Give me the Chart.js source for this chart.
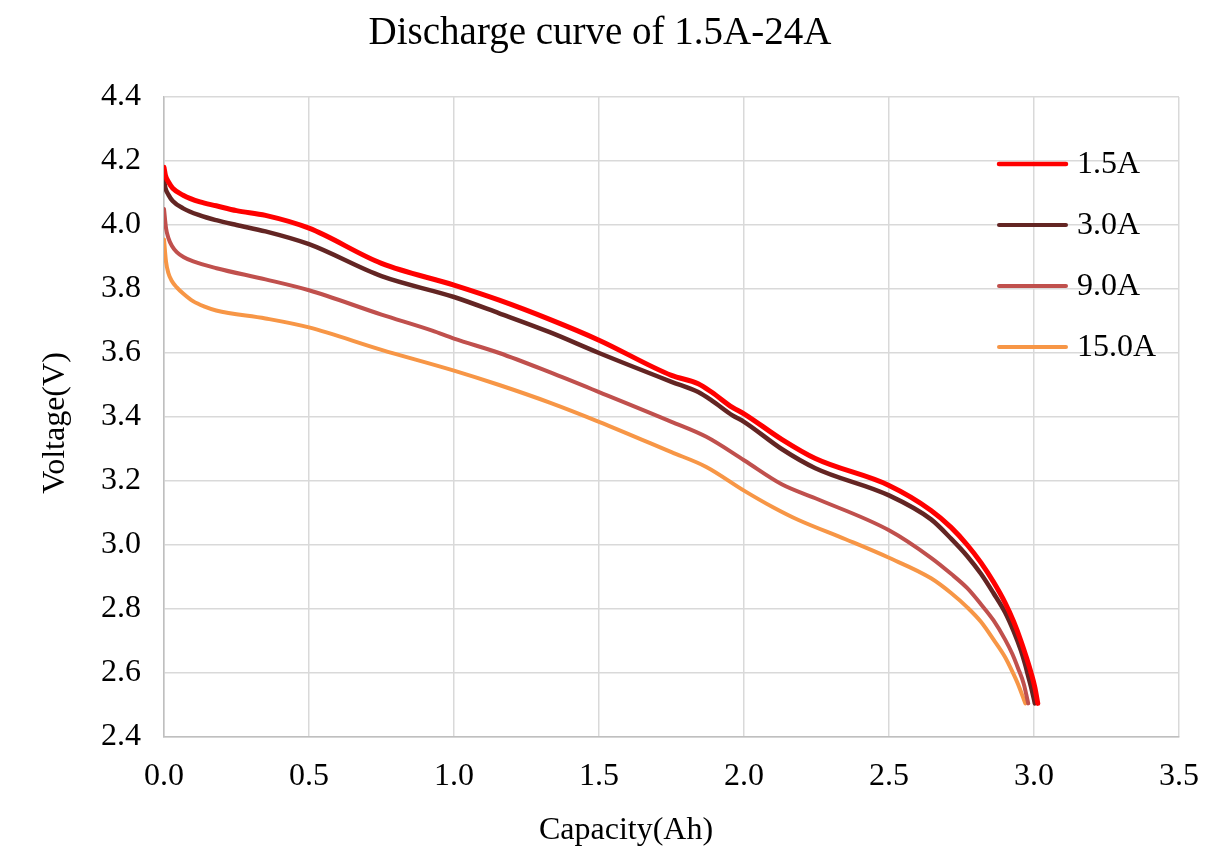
<!DOCTYPE html>
<html>
<head>
<meta charset="utf-8">
<script src="https://cdn.jsdelivr.net/npm/chart.js@4.4.1/dist/chart.umd.min.js"></script>
<style>
html,body{margin:0;padding:0;background:#ffffff;}
#wrap{width:1219px;height:850px;}
canvas{display:block;}
</style>
</head>
<body>
<div id="wrap"><canvas id="c" width="1219" height="850"></canvas></div>
<script>
// ---- data ----
const chartTitle = 'Discharge curve of 1.5A-24A';
const xTitle = 'Capacity(Ah)';
const yTitle = 'Voltage(V)';
const seriesLabels = ['1.5A', '3.0A', '9.0A', '15.0A'];

const cap_1_5A  = [0, 0.005, 0.015, 0.03, 0.066, 0.124, 0.18, 0.25, 0.35, 0.5, 0.75, 1.0, 1.156, 1.33, 1.5, 1.75, 1.842, 1.888, 1.96, 2.0, 2.13, 2.246, 2.5, 2.645, 2.714, 2.77, 2.817, 2.86, 2.9, 2.93, 2.955, 2.975, 2.99, 3.003, 3.013];
const volt_1_5A = [4.18, 4.155, 4.135, 4.115, 4.093, 4.072, 4.06, 4.045, 4.03, 3.99, 3.88, 3.812, 3.765, 3.705, 3.64, 3.53, 3.504, 3.478, 3.43, 3.41, 3.33, 3.27, 3.186, 3.108, 3.055, 3.0, 2.945, 2.885, 2.82, 2.76, 2.70, 2.645, 2.60, 2.555, 2.505];

const cap_3_0A  = [0, 0.005, 0.015, 0.03, 0.066, 0.124, 0.18, 0.25, 0.35, 0.5, 0.75, 1.0, 1.156, 1.33, 1.5, 1.75, 1.842, 1.888, 1.96, 2.0, 2.13, 2.246, 2.5, 2.645, 2.714, 2.77, 2.817, 2.86, 2.9, 2.93, 2.955, 2.97, 2.98, 2.993, 3.003];
const volt_3_0A = [4.14, 4.115, 4.095, 4.075, 4.052, 4.03, 4.015, 4.0, 3.98, 3.94, 3.84, 3.775, 3.724, 3.665, 3.60, 3.51, 3.478, 3.452, 3.405, 3.385, 3.30, 3.24, 3.155, 3.08, 3.02, 2.965, 2.91, 2.85, 2.79, 2.73, 2.67, 2.625, 2.59, 2.545, 2.505];

const cap_9_0A  = [0, 0.007, 0.015, 0.027, 0.044, 0.067, 0.101, 0.181, 0.35, 0.5, 0.75, 0.925, 1.0, 1.156, 1.33, 1.5, 1.75, 1.87, 2.0, 2.13, 2.246, 2.5, 2.645, 2.714, 2.77, 2.817, 2.86, 2.9, 2.925, 2.945, 2.965, 2.98];
const volt_9_0A = [4.05, 3.99, 3.96, 3.935, 3.915, 3.90, 3.886, 3.865, 3.83, 3.796, 3.72, 3.67, 3.645, 3.60, 3.54, 3.478, 3.385, 3.338, 3.265, 3.19, 3.146, 3.046, 2.96, 2.91, 2.865, 2.815, 2.765, 2.705, 2.66, 2.615, 2.565, 2.505];

const cap_15_0A  = [0, 0.007, 0.015, 0.027, 0.044, 0.067, 0.1, 0.14, 0.18, 0.35, 0.5, 0.75, 1.0, 1.156, 1.33, 1.5, 1.75, 1.87, 2.0, 2.1, 2.188, 2.35, 2.5, 2.645, 2.714, 2.77, 2.817, 2.86, 2.9, 2.925, 2.945, 2.97];
const volt_15_0A = [3.955, 3.885, 3.85, 3.825, 3.805, 3.785, 3.762, 3.745, 3.733, 3.708, 3.68, 3.61, 3.545, 3.50, 3.445, 3.385, 3.29, 3.244, 3.17, 3.118, 3.078, 3.018, 2.96, 2.896, 2.85, 2.805, 2.76, 2.705, 2.65, 2.605, 2.565, 2.505];

const xMin = 0, xMax = 3.5, xStep = 0.5;
const yMin = 2.4, yMax = 4.4, yStep = 0.2;

// ---- styling ----
const FONT = '"Liberation Serif", "Times New Roman", serif';
const colors = ['#FF0000', '#632523', '#C0504D', '#F79646'];
const widths = [5, 4.5, 4, 4];

const caps = [cap_1_5A, cap_3_0A, cap_9_0A, cap_15_0A];
const volts = [volt_1_5A, volt_3_0A, volt_9_0A, volt_15_0A];

const datasets = seriesLabels.map((lab, i) => ({
  label: lab,
  data: caps[i].map((x, k) => ({x: x, y: volts[i][k]})),
  borderColor: colors[i],
  backgroundColor: colors[i],
  borderWidth: widths[i],
  pointRadius: 0,
  pointHoverRadius: 0,
  fill: false,
  cubicInterpolationMode: 'monotone',
  borderCapStyle: 'round',
  borderJoinStyle: 'round'
}));

const overlayPlugin = {
  id: 'overlay',
  afterDraw(chart) {
    const ctx = chart.ctx;
    ctx.save();
    ctx.fillStyle = '#000';
    // chart title
    ctx.font = '39px ' + FONT;
    ctx.textAlign = 'center';
    ctx.textBaseline = 'middle';
    ctx.fillText(chartTitle, 600, 34);
    // x axis title
    ctx.font = '32px ' + FONT;
    ctx.fillText(xTitle, 626, 831);
    // y axis title
    ctx.save();
    ctx.translate(56, 423);
    ctx.rotate(-Math.PI / 2);
    ctx.fillText(yTitle, 0, 0);
    ctx.restore();
    // legend
    chart.data.datasets.forEach((ds, i) => {
      const y = 164 + i * 61;
      ctx.beginPath();
      ctx.strokeStyle = ds.borderColor;
      ctx.lineWidth = i === 0 ? 4.5 : 4;
      ctx.lineCap = 'round';
      ctx.moveTo(999, y);
      ctx.lineTo(1066, y);
      ctx.stroke();
      ctx.fillStyle = '#000';
      ctx.textAlign = 'left';
      ctx.textBaseline = 'middle';
      ctx.fillText(ds.label, 1077, y + 1);
    });
    ctx.restore();
  }
};

new Chart(document.getElementById('c'), {
  type: 'line',
  data: { datasets: datasets },
  plugins: [overlayPlugin],
  options: {
    responsive: false,
    animation: false,
    devicePixelRatio: 1,
    layout: { padding: { left: 0, right: 38, top: 97, bottom: 0 } },
    plugins: {
      legend: { display: false },
      tooltip: { enabled: false },
      title: { display: false }
    },
    scales: {
      x: {
        type: 'linear',
        min: xMin, max: xMax,
        afterFit(s) { s.height = 113; },
        ticks: {
          stepSize: xStep,
          color: '#000',
          font: { family: FONT, size: 32 },
          padding: 20,
          maxRotation: 0,
          callback: v => Number(v).toFixed(1)
        },
        grid: { color: '#D9D9D9', lineWidth: 1.5, drawTicks: false },
        border: { color: '#BFBFBF', width: 1.5 }
      },
      y: {
        type: 'linear',
        min: yMin, max: yMax,
        afterFit(s) { s.width = 164; },
        ticks: {
          stepSize: yStep,
          color: '#000',
          font: { family: FONT, size: 32 },
          padding: 23,
          callback: v => Number(v).toFixed(1)
        },
        grid: { color: '#D9D9D9', lineWidth: 1.5, drawTicks: false },
        border: { color: '#BFBFBF', width: 1.5 }
      }
    }
  }
});
</script>
</body>
</html>
